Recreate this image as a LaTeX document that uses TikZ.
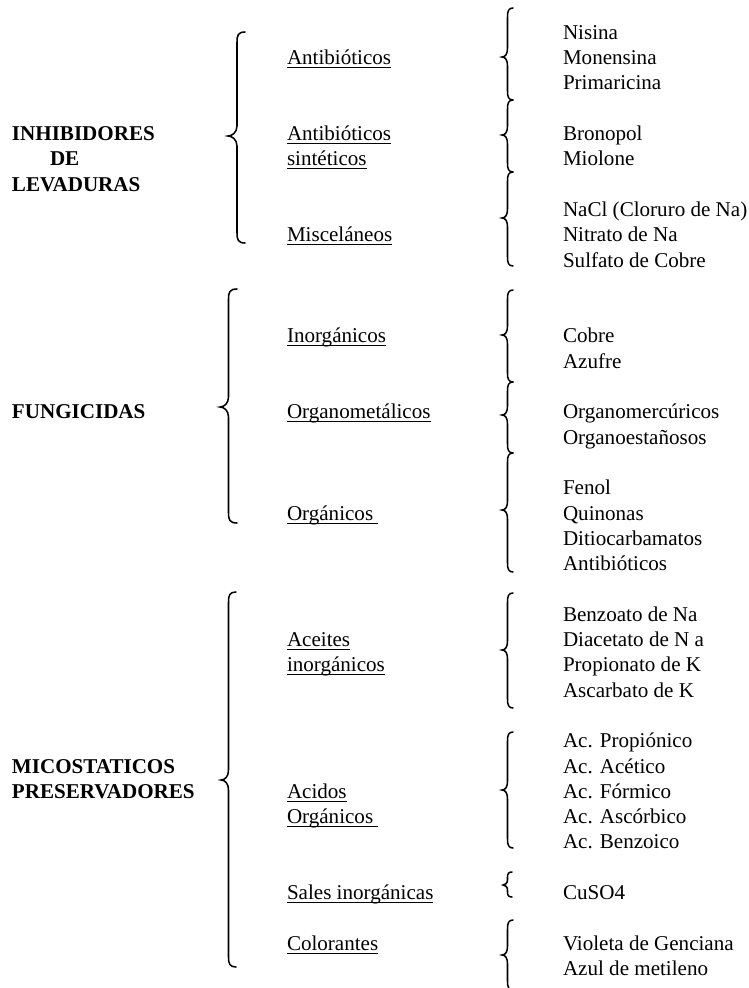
\documentclass[tikz,border=0pt]{standalone}
\usepackage{fontspec}
\setmainfont{Liberation Serif}
\newsavebox\ulbox
\newcommand\ulx[1]{\sbox\ulbox{#1}\rlap{\rule[-2.6pt]{\wd\ulbox}{0.7pt}}\usebox\ulbox}
\newcommand\Ln[1]{39.3+25.3*#1}
% #1 xtip, #2 xv, #3 xend, #4 ytop, #5 ymid, #6 ybot, #7 hook
\newcommand\cbrace[7]{%
  \draw[brc] (#3,#4) .. controls (#2+1,#4) and (#2,#4+0.35*#7) .. (#2,#4+#7)
    -- (#2,#5-#7) .. controls (#2,#5-0.35*#7) and (#1+0.4*#7,#5) .. (#1,#5)
    .. controls (#1+0.4*#7,#5) and (#2,#5+0.35*#7) .. (#2,#5+#7)
    -- (#2,#6-#7) .. controls (#2,#6-0.35*#7) and (#2+1,#6) .. (#3,#6);}
\begin{document}
\begin{tikzpicture}[x=0.75pt,y=-0.75pt,
  every node/.style={inner sep=0pt, outer sep=0pt, anchor=base west,
    font=\fontsize{15.8pt}{18pt}\selectfont},
  cat/.style={font=\fontsize{15.8pt}{18pt}\selectfont\bfseries},
  brc/.style={line width=1.15pt, line cap=round}]
\useasboundingbox (0,0) rectangle (749,988);

% ---------- categories ----------
\node[cat] (t1a) at (12,\Ln{4}) {INHIBIDORES};
\node[cat] (t1b) at (50,\Ln{5}) {DE};
\node[cat] (t1c) at (12,\Ln{6}) {LEVADURAS};
\node[cat] (t2)  at (12,\Ln{15}) {FUNGICIDAS};
\node[cat] (t3a) at (12,\Ln{29}) {MICOSTATICOS};
\node[cat] (t3b) at (12,\Ln{30}) {PRESERVADORES};

% ---------- big braces ----------
\cbrace{228}{237}{245}{32}{136}{243}{10}
\cbrace{220}{228.5}{237}{289}{407}{523}{10}
\cbrace{221}{228.5}{236}{592}{780}{967}{10}

% ---------- subcategories ----------
\node (s11)  at (287,\Ln{1})  {\ulx{Antibióticos}};
\node (s12a) at (287,\Ln{4})  {\ulx{Antibióticos}};
\node (s12b) at (287,\Ln{5})  {\ulx{sintéticos}};
\node (s13)  at (287,\Ln{8})  {\ulx{Misceláneos}};
\node (s21)  at (287,\Ln{12}) {\ulx{Inorgánicos}};
\node (s22)  at (287,\Ln{15}) {\ulx{Organometálicos}};
\node (s23)  at (287,\Ln{19}) {\ulx{Orgánicos\ }};
\node (s31a) at (287,\Ln{24}) {\ulx{Aceites}};
\node (s31b) at (287,\Ln{25}) {\ulx{inorgánicos}};
\node (s32a) at (287,\Ln{30}) {\ulx{Acidos}};
\node (s32b) at (287,\Ln{31}) {\ulx{Orgánicos\ }};
\node (s33)  at (287,\Ln{34}) {\ulx{Sales inorgánicas}};
\node (s34)  at (287,\Ln{36}) {\ulx{Colorantes}};

% ---------- right braces ----------
\cbrace{502}{507.5}{513}{8}{57}{100}{9}
\cbrace{502}{507.5}{513}{100}{135}{172}{9}
\cbrace{502}{507.5}{513}{172}{218}{266}{9}
\cbrace{502}{507.5}{513}{290}{335}{382}{9}
\cbrace{502}{507.5}{513}{382}{415}{453}{9}
\cbrace{502}{507.5}{513}{453}{510}{572}{9}
\cbrace{502}{507.5}{513}{593}{650}{708}{9}
\cbrace{502}{507.5}{513}{732}{790}{848}{9}
\cbrace{503}{507.5}{512}{872}{885}{897}{5}
\cbrace{502}{507.5}{513}{920}{955}{990}{9}

% ---------- items ----------
\node (i1)  at (563,\Ln{0})  {Nisina};
\node (i2)  at (563,\Ln{1})  {Monensina};
\node (i3)  at (563,\Ln{2})  {Primaricina};
\node (i4)  at (563,\Ln{4})  {Bronopol};
\node (i5)  at (563,\Ln{5})  {Miolone};
\node (i6)  at (563,\Ln{7})  {NaCl (Cloruro de Na)};
\node (i7)  at (563,\Ln{8})  {Nitrato de Na};
\node (i8)  at (563,\Ln{9})  {Sulfato de Cobre};
\node (i9)  at (563,\Ln{12}) {Cobre};
\node (i10) at (563,\Ln{13}) {Azufre};
\node (i11) at (563,\Ln{15}) {Organomercúricos};
\node (i12) at (563,\Ln{16}) {Organoestañosos};
\node (i13) at (563,\Ln{18}) {Fenol};
\node (i14) at (563,\Ln{19}) {Quinonas};
\node (i15) at (563,\Ln{20}) {Ditiocarbamatos};
\node (i16) at (563,\Ln{21}) {Antibióticos};
\node (i17) at (563,\Ln{23}) {Benzoato de Na};
\node (i18) at (563,\Ln{24}) {Diacetato de N a};
\node (i19) at (563,\Ln{25}) {Propionato de K};
\node (i20) at (563,\Ln{26}) {Ascarbato de K};
\node (i21) at (563,\Ln{28}) {Ac. Propiónico};
\node (i22) at (563,\Ln{29}) {Ac. Acético};
\node (i23) at (563,\Ln{30}) {Ac. Fórmico};
\node (i24) at (563,\Ln{31}) {Ac. Ascórbico};
\node (i25) at (563,\Ln{32}) {Ac. Benzoico};
\node (i26) at (563,\Ln{34}) {CuSO4};
\node (i27) at (563,\Ln{36}) {Violeta de Genciana};
\node (i28) at (563,\Ln{37}) {Azul de metileno};
\end{tikzpicture}
\end{document}
